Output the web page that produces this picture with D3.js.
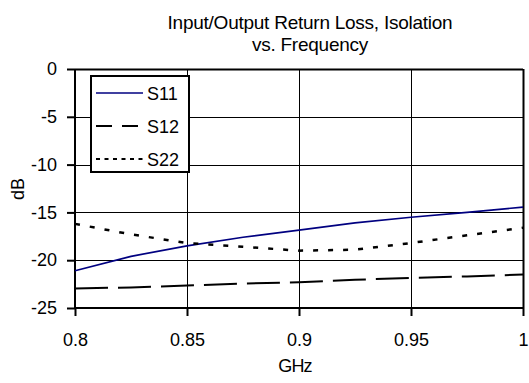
<!DOCTYPE html>
<html>
<head>
<meta charset="utf-8">
<script src="https://cdn.jsdelivr.net/npm/d3@7"></script>
<style>
  html, body { margin: 0; padding: 0; background: #fff; }
  svg text { font-family: "Liberation Sans", Arial, sans-serif; fill: #000; }
</style>
</head>
<body>
<svg id="chart" width="529" height="383"></svg>
<script>
// Frequency points (GHz) and measured S-parameters (dB)
const freq = [0.8, 0.825, 0.85, 0.875, 0.9, 0.925, 0.95, 0.975, 1.0];
const s11 = [-21.1, -19.6, -18.5, -17.6, -16.85, -16.1, -15.5, -15.0, -14.45];
const s12 = [-22.95, -22.85, -22.65, -22.45, -22.3, -22.05, -21.85, -21.7, -21.5];
const s22 = [-16.2, -17.3, -18.2, -18.6, -19.0, -18.9, -18.2, -17.4, -16.6];

const xTicks = [0.8, 0.85, 0.9, 0.95, 1.0];
const yTicks = [0, -5, -10, -15, -20, -25];
const titleLines = ["Input/Output Return Loss, Isolation", "vs. Frequency"];

const series = [
  { name: "S11", values: s11, color: "#000080", width: 1.6, dash: null },
  { name: "S12", values: s12, color: "#000000", width: 2, dash: "33,10" },
  { name: "S22", values: s22, color: "#000000", width: 2.5, dash: "5,10" }
];

const FONT = 18;
const svg = d3.select("#chart");
const x = d3.scaleLinear().domain([0.8, 1.0]).range([75, 523]);
const y = d3.scaleLinear().domain([-25, 0]).range([308, 69]);
// crisp 1px grid positions
const px = v => Math.round(x(v)) + 0.5;
const py = v => Math.round(y(v)) + 0.5;

// Title
svg.append("text")
  .attr("text-anchor", "middle")
  .attr("font-size", 19).attr("letter-spacing", -0.25)
  .selectAll("tspan").data(titleLines).join("tspan")
  .attr("x", 310).attr("y", (d, i) => 29 + i * 22)
  .text(d => d);

// Gridlines
const grid = svg.append("g");
grid.selectAll("line.h").data(yTicks).join("line")
  .attr("x1", x(0.8)).attr("x2", x(1.0))
  .attr("y1", d => py(d)).attr("y2", d => py(d))
  .attr("stroke", "#000").attr("stroke-width", d => d === 0 ? 2 : 1);
grid.selectAll("line.v").data(xTicks).join("line")
  .attr("y1", y(0)).attr("y2", y(-25))
  .attr("x1", d => px(d)).attr("x2", d => px(d))
  .attr("stroke", "#000").attr("stroke-width", d => d === 1.0 ? 2 : 1);

// Axes
const xAxis = d3.axisBottom(x).tickValues(xTicks).tickSize(8).tickPadding(17)
  .tickFormat(d => String(+d.toFixed(2)));
const yAxis = d3.axisLeft(y).tickValues(yTicks).tickSize(8).tickPadding(10)
  .tickFormat(d => String(d));

const gx = svg.append("g").attr("transform", `translate(0,${y(-25)})`).call(xAxis);
const gy = svg.append("g").attr("transform", `translate(${x(0.8)},0)`).call(yAxis);
[gx, gy].forEach(g => {
  g.select(".domain").attr("stroke", "#000").attr("stroke-width", 2);
  g.selectAll(".tick line").attr("stroke", "#000").attr("stroke-width", 2);
  g.selectAll(".tick text").attr("font-size", FONT)
    .attr("font-family", "Liberation Sans, Arial, sans-serif").attr("fill", "#000");
});
gx.select(".domain").attr("d", `M${x(0.8)},0H${x(1.0)}`);
gy.select(".domain").attr("d", `M0,${y(0)}V${y(-25)}`);

// Axis titles
svg.append("text").attr("x", 295).attr("y", 372)
  .attr("text-anchor", "middle").attr("font-size", FONT).attr("letter-spacing", -0.8).text("GHz");
svg.append("text").attr("transform", "translate(24,189) rotate(-90)")
  .attr("text-anchor", "middle").attr("font-size", FONT).text("dB");

// Series lines
const line = d3.line().x((d, i) => x(freq[i])).y(d => y(d));
svg.append("g").selectAll("path").data(series).join("path")
  .attr("d", d => line(d.values))
  .attr("fill", "none")
  .attr("stroke", d => d.color)
  .attr("stroke-width", d => d.width)
  .attr("stroke-dasharray", d => d.dash);

// Legend
const lg = svg.append("g");
lg.append("rect").attr("x", 91).attr("y", 76).attr("width", 98).attr("height", 96)
  .attr("fill", "#fff").attr("stroke", "#000").attr("stroke-width", 2);
const legendDash = { S11: null, S12: "16,10", S22: "4,4.5" };
const rows = lg.selectAll("g.row").data(series).join("g")
  .attr("transform", (d, i) => `translate(0,${93 + i * 33})`);
rows.append("line").attr("x1", 96).attr("x2", 143).attr("y1", 0).attr("y2", 0)
  .attr("stroke", d => d.color).attr("stroke-width", d => d.name === "S11" ? 1.6 : 2)
  .attr("stroke-dasharray", d => legendDash[d.name]);
rows.append("text").attr("x", 147).attr("y", 6.5).attr("font-size", FONT).text(d => d.name);
</script>
</body>
</html>
